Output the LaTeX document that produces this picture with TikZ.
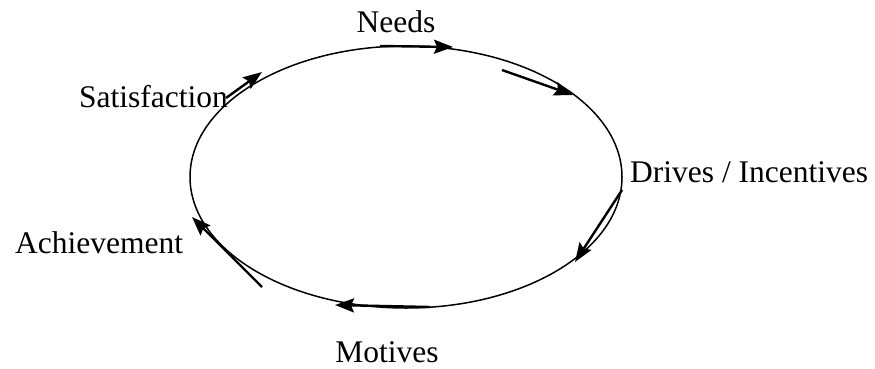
\documentclass[tikz,border=0pt]{standalone}
\usepackage{fontspec}
\setmainfont{Liberation Serif}
\usetikzlibrary{arrows.meta}
\begin{document}
\begin{tikzpicture}[x=1pt,y=-1pt,
  lbl/.style={font=\fontsize{31.5}{36}\selectfont, inner sep=0pt},
  arr/.style={line width=2.4pt, -{Stealth[length=19pt,width=14pt,inset=3pt]}}]
\useasboundingbox (0,0) rectangle (875,368);
\draw[line width=1.5pt] (406,177) ellipse [x radius=216, y radius=131];
\node[lbl] (needs) at (396,22) {Needs};
\node[lbl, anchor=west] (drives) at (630,172) {Drives / Incentives};
\node[lbl] (motives) at (387,352) {Motives};
\node[lbl, anchor=west] (achieve) at (15,243) {Achievement};
\node[lbl, anchor=west] (satis) at (79,97) {Satisfaction};
\coordinate (a1) at (380,46); \coordinate (b1) at (453,47);
\coordinate (a2) at (502,70); \coordinate (b2) at (573,95);
\coordinate (a3) at (622,190); \coordinate (b3) at (575,262);
\coordinate (a4) at (430,307); \coordinate (b4) at (335,305);
\coordinate (a5) at (262,287); \coordinate (b5) at (192,217);
\coordinate (a6) at (226,98); \coordinate (b6) at (262,72);
\draw[arr] (a1) -- (b1);
\draw[arr] (a2) -- (b2);
\draw[arr] (a3) -- (b3);
\draw[arr] (a4) -- (b4);
\draw[arr] (a5) -- (b5);
\draw[arr] (a6) -- (b6);
\end{tikzpicture}
\end{document}
